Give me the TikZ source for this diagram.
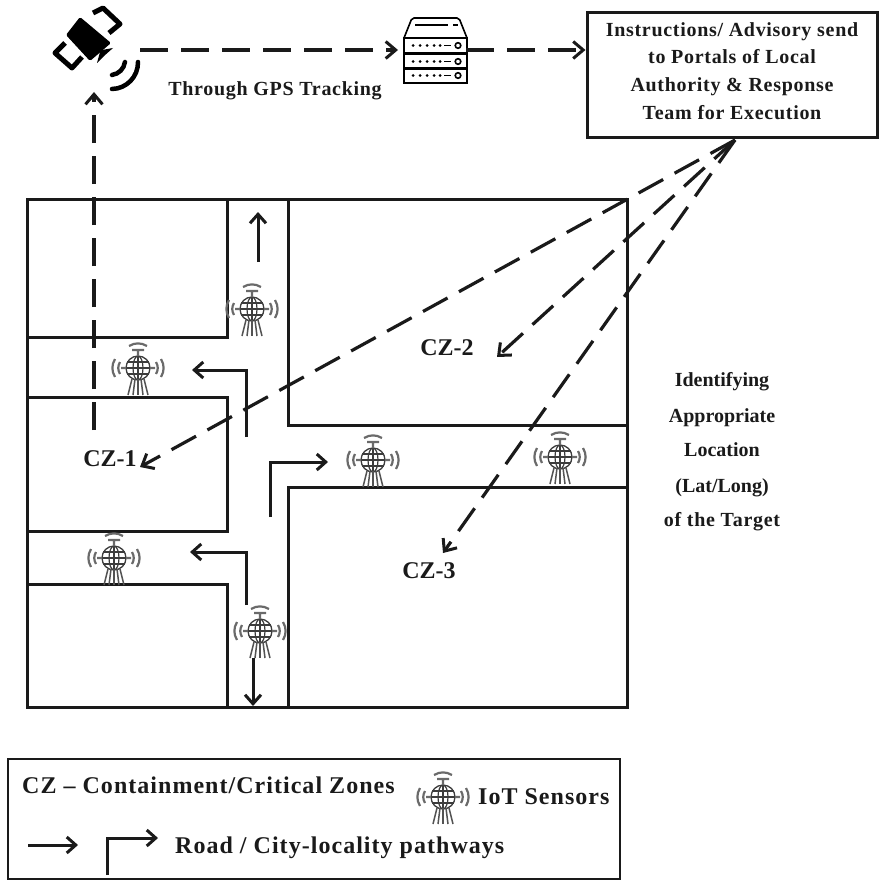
\documentclass[tikz,border=0pt]{standalone}
\usepackage{fontspec}
\setmainfont{Liberation Serif}
\usetikzlibrary{arrows.meta}
\definecolor{inkgray}{HTML}{1A1A1A}
\tikzset{
    wall/.style={line width=3pt, inkgray},
    road/.style={line width=3pt, inkgray, -{Straight Barb[length=9pt,width=16pt,line width=3pt]}},
    track/.style={line width=3.2pt, inkgray, dash pattern=on 28pt off 13pt, -{Straight Barb[length=10pt,width=17pt,line width=3pt]}},
    label/.style={font=\bfseries\fontsize{20}{24}\selectfont, inkgray, inner sep=0pt, text height=14pt, text depth=4pt},
    wide/.style={font=\bfseries\fontsize{20}{24}\selectfont\addfontfeatures{LetterSpace=3.5}, inkgray, inner sep=0pt, text height=14pt, text depth=4pt},
    zone/.style={font=\bfseries\fontsize{24}{28}\selectfont, inkgray, inner sep=0pt},
    key/.style={font=\bfseries\fontsize{24}{28}\selectfont\addfontfeatures{LetterSpace=4.3}, inkgray, inner sep=0pt, anchor=west},
    pics/sensor/.style={code={
        \draw[line width=1.3pt, inkgray!85] (0,0) circle (12);
        \draw[line width=1.2pt, inkgray!85] (0,0) ellipse (5 and 12);
        \draw[line width=1.2pt, inkgray!85] (-12,0) -- (12,0) (-11,-6) -- (11,-6) (-11,6) -- (11,6) (0,-12) -- (0,12);
        \draw[line width=2.2pt, inkgray!65] (-6,-18) -- (6,-18) (-9,-22) to[bend left=30] (9,-22) (0,-18) -- (0,-12);
        \draw[line width=2.2pt, inkgray!65] (-12,0) -- (-17,0) (-18,-6) to[bend right=30] (-18,6) (-23,-9) to[bend right=30] (-23,9);
        \draw[line width=2.2pt, inkgray!65] (12,0) -- (17,0) (18,-6) to[bend left=30] (18,6) (23,-9) to[bend left=30] (23,9);
        \foreach \i in {-10,-5,0,5,10} {
            \draw[line width=1.5pt, inkgray!75] (\i*0.6,11) -- (\i,27);
        }
    }},
    pics/rack/.style={code={
        \foreach \j in {38,54,68} {
            \draw[line width=1.6pt] (404,\j) rectangle (467,\j+15);
            \foreach \i in {413,420,427,434,440} {
                \fill (\i,\j+7.5) circle (1.5);
            }
            \draw[line width=1.6pt] (444,\j+7.5) -- (451,\j+7.5);
            \draw[line width=1.6pt] (458,\j+7.5) circle (2.8);
        }
        \draw[line width=1.6pt, rounded corners=2pt] (404,38) -- (412,18) -- (459,18) -- (467,38);
        \draw[line width=2.2pt] (415,25) -- (448,25) (453,25) -- (458,25);
    }},
    pics/satellite/.style={code={
        \fill[rounded corners=1.5pt] (80,17) -- (111,43) -- (90,61) -- (66,35) -- cycle;
        \draw[line width=5pt, line join=round] (93,13) -- (103,8) -- (120,24) -- (109,33);
        \draw[line width=5pt, line join=round] (82,57) -- (72,68) -- (55,53) -- (65,43);
        \fill (113,48) -- (104,56) -- (97,63) -- (100,52) -- (102,50) -- cycle;
        \draw[line width=4.5pt, line cap=round] (112,75) to[bend right=35] (125,62);
        \draw[line width=4.5pt, line cap=round] (112,89) to[bend right=45] (138,62);
    }}
}
\begin{document}
\begin{tikzpicture}[x=1pt,y=-1pt]
    \useasboundingbox (0,0) rectangle (880,880);

    % Contorno de la zona y manzanas
    \draw[wall] (27,199) rectangle (627,707);
    \draw[wall] (27,337) -| (227,199);
    \draw[wall] (27,397) -| (227,531) -- (27,531);
    \draw[wall] (27,584) -| (227,707);
    \draw[wall] (288,199) |- (627,425);
    \draw[wall] (288,707) |- (627,487);

    % Sensores
    \foreach \p in {(252,309),(138,368),(373,460),(560,457),(114,558),(260,631),(443,797)} {
        \pic at \p {sensor};
    }
    \pic {satellite};
    \pic {rack};

    % Caja de instrucciones
    \node[draw, line width=3pt, inkgray, minimum width=290pt, minimum height=125pt] (portal) at (732,75) {};
    \node[wide] (portalA) at (732,32) {Instructions/ Advisory send};
    \node[wide] (portalB) at (732,59) {to Portals of Local};
    \node[wide] (portalC) at (732,87) {Authority \& Response};
    \node[wide] (portalD) at (732,115) {Team for Execution};

    \node[wide] (gps) at (275,91) {Through GPS Tracking};
    \node[zone] (cza) at (110,459) {CZ-1};
    \node[zone] (czb) at (447,348) {CZ-2};
    \node[zone] (czc) at (429,571) {CZ-3};

    \node[label] (sideA) at (722,381) {Identifying};
    \node[label] (sideB) at (722,417) {Appropriate};
    \node[label] (sideC) at (722,451) {Location};
    \node[label] (sideD) at (722,487) {(Lat/Long)};
    \node[wide] (sideE) at (722,521) {of the Target};

    % Recorridos punteados
    \coordinate (satOut) at (140,50);
    \coordinate (rackIn) at (398,50);
    \coordinate (rackOut) at (466,50);
    \coordinate (satIn) at (94,92);
    \coordinate (czStart) at (94,430);
    \coordinate (fan) at (735,140);
    \coordinate (czaEnd) at (140,467);
    \coordinate (czbEnd) at (497,357);
    \coordinate (czcEnd) at (443,553);
    \draw[track] (satOut) -- (rackIn);
    \draw[track] (rackOut) -- (portal.west |- rackOut);
    \draw[track] (czStart) -- (satIn);
    \draw[track] (fan) -- (czaEnd);
    \draw[track] (fan) -- (czbEnd);
    \draw[track] (fan) -- (czcEnd);

    % Caminos
    \coordinate (rdA) at (258,262);
    \coordinate (rdAe) at (258,212);
    \coordinate (rdB) at (246,437);
    \coordinate (rdBe) at (192,370);
    \coordinate (rdC) at (270,517);
    \coordinate (rdCe) at (328,462);
    \coordinate (rdD) at (246,605);
    \coordinate (rdDe) at (190,552);
    \coordinate (rdE) at (253,658);
    \coordinate (rdEe) at (253,706);
    \draw[road] (rdA) -- (rdAe);
    \draw[road] (rdB) |- (rdBe);
    \draw[road] (rdC) |- (rdCe);
    \draw[road] (rdD) |- (rdDe);
    \draw[road] (rdE) -- (rdEe);

    % Leyenda
    \node[draw, line width=2pt, inkgray, minimum width=612pt, minimum height=120pt] (legend) at (314,819) {};
    \node[key] (legendA) at (22,785) {CZ – Containment/Critical Zones};
    \node[key] (legendB) at (478,797) {IoT Sensors};
    \node[key] (legendC) at (175,848) {Road / City-locality pathways};
    \coordinate (keyA) at (28,845);
    \coordinate (keyAe) at (78,845);
    \coordinate (keyB) at (107,875);
    \coordinate (keyBe) at (158,838);
    \draw[road] (keyA) -- (keyAe);
    \draw[road] (keyB) |- (keyBe);
\end{tikzpicture}
\end{document}
